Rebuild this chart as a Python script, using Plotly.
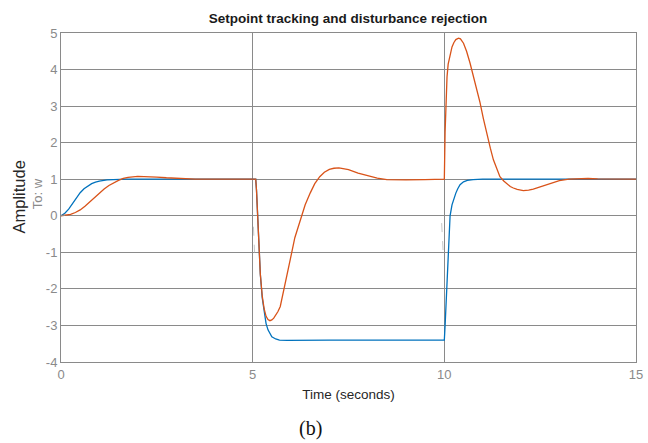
import plotly.graph_objects as go

# Blue: setpoint tracking response
t_blue = [0, 0.1, 0.2, 0.3, 0.4, 0.5, 0.6, 0.7, 0.8, 0.9, 1.0, 1.2, 1.4, 1.7, 2.0, 3.0, 4.0, 5.0, 5.08,
          5.1, 5.13, 5.16, 5.2, 5.25, 5.3, 5.35, 5.4, 5.45, 5.5, 5.6, 5.7, 5.9, 6.5, 7.0, 8.0, 9.0, 10.0,
          10.02, 10.06, 10.1, 10.15, 10.2, 10.24, 10.3, 10.35, 10.41, 10.5, 10.6, 10.75, 11.0,
          12.0, 13.0, 14.0, 15.0]
y_blue = [0, 0.07, 0.18, 0.33, 0.5, 0.63, 0.74, 0.82, 0.88, 0.92, 0.95, 0.98, 0.995, 1.0, 1.0, 1.0, 1.0, 1.0, 1.0,
          0.7, 0.0, -0.8, -1.6, -2.25, -2.65, -2.95, -3.12, -3.24, -3.31, -3.37, -3.4, -3.41, -3.4, -3.4, -3.4, -3.4, -3.4,
          -3.0, -2.0, -1.0, 0.0, 0.3, 0.45, 0.62, 0.74, 0.85, 0.93, 0.97, 0.99, 1.0,
          1.0, 1.0, 1.0, 1.0]

# Orange: disturbance rejection response
t_orange = [0, 0.125, 0.25, 0.375, 0.5, 0.625, 0.75, 0.875, 1.0, 1.125, 1.25, 1.375, 1.5, 1.625, 1.75,
            2.0, 2.25, 2.5, 2.75, 3.0, 3.5, 4.0, 5.0, 5.08,
            5.1, 5.13, 5.16, 5.2, 5.25, 5.3, 5.35, 5.4, 5.45, 5.5, 5.55, 5.6, 5.66, 5.72, 5.78, 5.85, 5.92, 5.98,
            6.1, 6.24, 6.37, 6.5, 6.62, 6.75, 6.87, 7.0, 7.12, 7.25, 7.4, 7.5, 7.75, 8.0, 8.25, 8.5, 8.75,
            9.0, 9.5, 10.0,
            10.02, 10.04, 10.07, 10.1, 10.15, 10.2, 10.25, 10.3, 10.37, 10.42, 10.5, 10.58, 10.67,
            10.76, 10.85, 10.93, 11.02, 11.1, 11.2, 11.28, 11.37, 11.45, 11.55, 11.63, 11.72, 11.8,
            11.9, 12.06, 12.2, 12.32, 12.5, 12.67, 12.85, 13.0, 13.25, 13.5, 13.75, 14.0, 14.5, 15.0]
y_orange = [0, 0.01, 0.04, 0.09, 0.16, 0.26, 0.38, 0.5, 0.62, 0.73, 0.83, 0.91, 0.97, 1.02, 1.05,
            1.08, 1.08, 1.06, 1.04, 1.02, 1.0, 1.0, 1.0, 1.0,
            0.7, 0.0, -0.8, -1.6, -2.2, -2.55, -2.75, -2.84, -2.87, -2.85, -2.8, -2.72, -2.62, -2.48, -2.2, -1.85, -1.5, -1.2,
            -0.6, -0.1, 0.3, 0.62, 0.88, 1.07, 1.19, 1.27, 1.3, 1.31, 1.29, 1.26, 1.17, 1.09, 1.03, 0.99, 0.98,
            0.98, 0.99, 1.0,
            2.3, 3.2, 3.8, 4.15, 4.44, 4.62, 4.74, 4.82, 4.86, 4.84, 4.72, 4.5, 4.18,
            3.82, 3.45, 3.1, 2.65, 2.26, 1.85, 1.53, 1.27, 1.07, 0.95, 0.88, 0.8, 0.76,
            0.72, 0.69, 0.7, 0.73, 0.79, 0.85, 0.91, 0.96, 1.0, 1.02, 1.02, 1.01, 1.0, 1.0]

# Faint reference fragments
t_ref = [5.02, 5.05, None, 9.93, 9.97]
y_ref = [-0.3, -1.0, None, -0.2, -1.0]

x_ticks = [0, 5, 10, 15]
x_labels = ["0", "5", "10", "15"]
y_ticks = [-4, -3, -2, -1, 0, 1, 2, 3, 4, 5]
y_labels = ["-4", "-3", "-2", "-1", "0", "1", "2", "3", "4", "5"]

fig = go.Figure()
fig.add_trace(go.Scatter(x=t_ref, y=y_ref, mode="lines",
                         line=dict(color="#c8c8c8", width=1, dash="dash"), showlegend=False))
fig.add_trace(go.Scatter(x=t_blue, y=y_blue, mode="lines",
                         line=dict(color="#0072BD", width=1.3), showlegend=False))
fig.add_trace(go.Scatter(x=t_orange, y=y_orange, mode="lines",
                         line=dict(color="#D95319", width=1.3), showlegend=False))

sans = "Liberation Sans, Arial, sans-serif"
axis_font = dict(family=sans, size=13, color="#8a8a8a")
fig.update_layout(
    width=648, height=443,
    margin=dict(l=61, r=12, t=33, b=81),
    paper_bgcolor="white", plot_bgcolor="white",
    title=dict(text="<b>Setpoint tracking and disturbance rejection</b>",
               x=348 / 648, xanchor="center", y=1 - 18 / 443, yanchor="middle",
               font=dict(family=sans, size=13.5, color="#1a1a1a")),
    xaxis=dict(range=[0, 15], tickvals=x_ticks, ticktext=x_labels, showgrid=True,
               gridcolor="#8a8a8a", gridwidth=1, automargin=False,
               zeroline=False, showline=True, linecolor="#8a8a8a", mirror=True,
               ticks="inside", ticklen=4, tickcolor="#8a8a8a", tickfont=axis_font,
               title=dict(text="Time (seconds)", standoff=8,
                          font=dict(family=sans, size=13.5, color="#262626"))),
    yaxis=dict(range=[-4, 5], tickvals=y_ticks, ticktext=y_labels, showgrid=True,
               gridcolor="#8a8a8a", gridwidth=1, automargin=False,
               zeroline=False, showline=True, linecolor="#8a8a8a", mirror=True,
               ticks="inside", ticklen=4, tickcolor="#8a8a8a", tickfont=axis_font),
    annotations=[
        dict(text="Amplitude", xref="paper", yref="paper", x=0, y=0.5, xshift=-43,
             textangle=-90, showarrow=False, xanchor="center", yanchor="middle",
             font=dict(family=sans, size=16.5, color="#262626")),
        dict(text="To: w", xref="paper", yref="paper", x=0, y=0.51, xshift=-24,
             textangle=-90, showarrow=False, xanchor="center", yanchor="middle",
             font=dict(family=sans, size=13, color="#8a8a8a")),
        dict(text="(b)", xref="paper", yref="paper", x=(310 - 61) / 575, y=0, yshift=-66,
             showarrow=False, xanchor="center", yanchor="middle",
             font=dict(family="Liberation Serif, Times New Roman, serif", size=20, color="#111111")),
    ],
)

fig.write_html(
    "out.html",
    config={"displayModeBar": False},
    post_script="document.body.style.margin='0';document.body.style.overflow='hidden';",
)
